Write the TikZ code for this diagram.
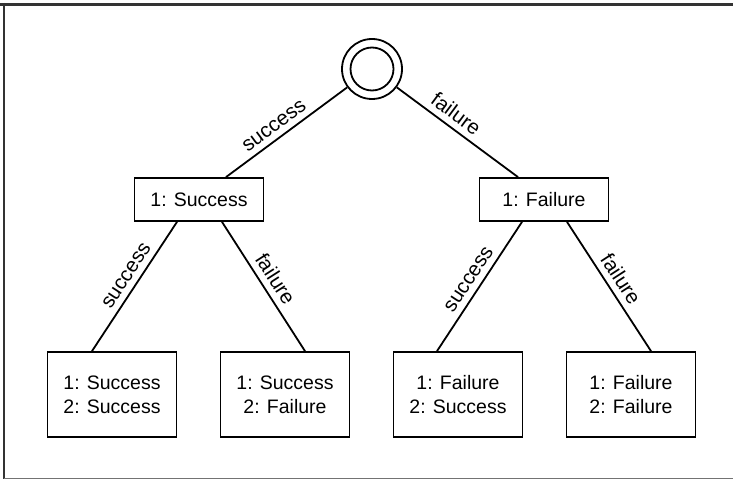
\documentclass[tikz,border=0pt]{standalone}
\usepackage{fontspec}
\setmainfont{Liberation Sans}
\usetikzlibrary{positioning, calc}

\begin{document}
\begin{tikzpicture}[x=1pt, y=1pt,
  obox/.style={draw, line width=1.8pt, minimum width=129pt, minimum height=43pt, align=center, inner sep=2pt, font=\fontsize{19.5}{24}\selectfont},
  leafbox/.style={obox, minimum height=85pt},
  ring/.style={circle, draw, line width=1.8pt, inner sep=0pt},
  edgelbl/.style={sloped, above, inner sep=6pt, font=\fontsize{20.5}{24}\selectfont},
  conn/.style={line width=1.8pt}
]
  \useasboundingbox (0,0) rectangle (733,480);
  % frame round the picture
  \draw[line width=3pt, black!80] (0,475.5) -- (733,475.5);
  \draw[line width=2.5pt, black!80] (4,477) -- (4,1);
  \draw[line width=1.5pt, black!55] (4,1.5) -- (733,1.5);

  % start state
  \node[ring, minimum size=60pt] (root) at (372,411) {};
  \node[ring, minimum size=43pt] (rootin) at (root) {};

  % first outcome
  \node[obox] (s1) at (199,280.5) {1: Success};
  \node[obox] (f1) at (544,280.5) {1: Failure};

  % both outcomes
  \node[leafbox] (ss) at (112,85.5) {1: Success\\2: Success};
  \node[leafbox] (sf) at (285,85.5) {1: Success\\2: Failure};
  \node[leafbox] (fs) at (458,85.5) {1: Failure\\2: Success};
  \node[leafbox] (ff) at (631,85.5) {1: Failure\\2: Failure};

  \draw[conn] (root) -- node[edgelbl, pos=.54] {success} ([xshift=27pt]s1.north);
  \draw[conn] (root) -- node[edgelbl, pos=.42] {failure} ([xshift=-26pt]f1.north);

  \draw[conn] ([xshift=-22pt]s1.south) -- node[edgelbl, pos=.47] {success} ([xshift=-20pt]ss.north);
  \draw[conn] ([xshift=23pt]s1.south) -- node[edgelbl, pos=.5] {failure} ([xshift=20pt]sf.north);
  \draw[conn] ([xshift=-22pt]f1.south) -- node[edgelbl, pos=.5] {success} ([xshift=-21pt]fs.north);
  \draw[conn] ([xshift=23pt]f1.south) -- node[edgelbl, pos=.5] {failure} ([xshift=20pt]ff.north);
\end{tikzpicture}
\end{document}
